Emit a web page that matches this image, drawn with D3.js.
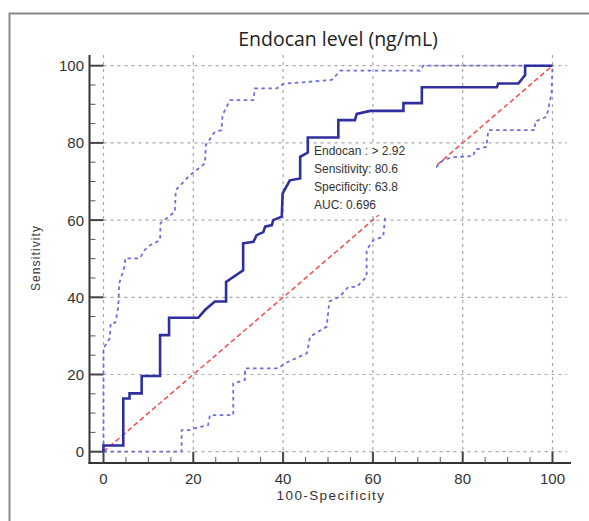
<!DOCTYPE html>
<html><head><meta charset="utf-8">
<script src="https://cdn.jsdelivr.net/npm/d3@7"></script>
<style>body{margin:0;background:#fff}svg{display:block}</style>
</head><body>
<svg id="c" width="589" height="521"></svg>
<script>
const title = "Endocan level (ng/mL)";
const xLabel = "100-Specificity";
const yLabel = "Sensitivity";
const tickValues = [0, 20, 40, 60, 80, 100];
const annotation = ["Endocan : > 2.92", "Sensitivity: 80.6", "Specificity: 63.8", "AUC: 0.696"];

const rocX = [0,0,4.4,4.4,5.8,5.8,8.5,8.5,12.6,12.6,14.6,14.6,21.1,22.6,24.8,27.3,27.3,31.1,31.1,33.4,34.1,35.6,36,37.5,37.8,39.7,39.9,41.5,43.8,43.8,45.5,45.5,52.3,52.3,56,56.4,59.4,66.8,66.8,70.9,70.9,87.6,87.9,92.4,93.9,93.9,100];
const rocY = [0,1.6,1.6,13.8,13.8,15.1,15.1,19.6,19.6,30.2,30.2,34.7,34.7,36.7,38.9,38.9,44,47,54,54.4,56.1,56.9,58.3,58.7,60,60.9,66.9,70.3,70.8,76.4,77.5,81.4,81.4,85.9,85.9,87.5,88.3,88.3,90.3,90.3,94.4,94.4,95.4,95.4,97.6,100,100];

const upperX = [0,0,0.7,1.4,1.6,2.6,2.9,3.3,3.5,4.1,4.8,4.8,8.1,9.2,10.4,12.6,12.7,15.9,16.1,19.3,22.6,22.8,24.8,26.3,26.5,28.2,33.4,33.7,38.6,40,50.8,51.9,52.7,70.5,71.2,100];
const upperY = [0,26.8,28.1,29.4,33.3,33.4,35,37.6,43.6,45.8,48.4,50.1,50.1,52.3,53.5,54.8,59.2,62.2,67.8,71.7,74.7,79.5,82.9,83.3,87.2,91.1,91.1,94.1,94.1,95.3,96.3,97.6,98.7,98.7,100,100];

const lowerX = [0,17.4,17.4,19.3,20.4,23.3,23.7,28.9,28.9,31.5,31.5,38.9,40,40.4,45.3,46,49.7,50.3,52.7,54.5,56.4,58.6,58.6,60.1,62.3,62.7,63.5,67,71,73.8,75.7,77.9,82.4,82.7,85.3,85.7,96.1,96.1,98.7,99.1,99.8,100];
const lowerY = [0,0,5.6,5.6,6.1,6.9,9.5,9.5,17.7,18.6,21.6,21.6,22.5,22.9,25.5,29.8,32.4,38.9,40.2,42.7,42.7,45.3,52.3,54.8,55.7,60.5,63,65,70,73.4,75.6,76.3,76.6,78.2,79,83.3,83.3,85.5,86.8,89,92.9,100];

const diagX = [0, 100];
const diagY = [0, 100];

const svg = d3.select("#c");
const x = d3.scaleLinear().domain([0, 100]).range([103.5, 552.5]);
const y = d3.scaleLinear().domain([0, 100]).range([451.7, 65.7]);
const axisX = 89.5, axisY = 463, axisTop = 55, axisRight = 571;

// outer frame
svg.append("rect").attr("x", 9.5).attr("y", 13.5).attr("width", 620).attr("height", 620)
  .attr("fill", "none").attr("stroke", "#8a8a8a").attr("stroke-width", 2);

// title
svg.append("text").attr("x", 338).attr("y", 46).attr("text-anchor", "middle")
  .attr("font-family", "Open Sans, sans-serif").attr("font-size", 19.5).attr("fill", "#222")
  .text(title);

// grid
const g = svg.append("g");
g.selectAll("line.h").data(tickValues).join("line")
  .attr("x1", axisX).attr("x2", 567).attr("y1", d => y(d)).attr("y2", d => y(d))
  .attr("stroke", "#a8a8a8").attr("stroke-width", 1.2).attr("stroke-dasharray", "3,4");
g.selectAll("line.v").data(tickValues).join("line")
  .attr("y1", axisTop).attr("y2", axisY).attr("x1", d => x(d)).attr("x2", d => x(d))
  .attr("stroke", "#a8a8a8").attr("stroke-width", 1.2).attr("stroke-dasharray", "3,4");

// axes
const minor = d3.range(0, 101, 5).filter(d => d % 20 !== 0);
svg.append("line").attr("x1", axisX).attr("x2", axisX).attr("y1", axisTop).attr("y2", axisY + 1)
  .attr("stroke", "#333").attr("stroke-width", 2);
svg.append("line").attr("x1", axisX - 1).attr("x2", axisRight).attr("y1", axisY).attr("y2", axisY)
  .attr("stroke", "#333").attr("stroke-width", 2);
svg.selectAll("line.ymaj").data(tickValues).join("line")
  .attr("x1", axisX).attr("x2", x(0)).attr("y1", d => y(d)).attr("y2", d => y(d))
  .attr("stroke", "#444").attr("stroke-width", 2);
svg.selectAll("line.ymin").data(minor).join("line")
  .attr("x1", axisX).attr("x2", axisX + 6).attr("y1", d => y(d)).attr("y2", d => y(d))
  .attr("stroke", "#555").attr("stroke-width", 1);
svg.selectAll("line.xmaj").data(tickValues).join("line")
  .attr("y1", axisY).attr("y2", y(0)).attr("x1", d => x(d)).attr("x2", d => x(d))
  .attr("stroke", "#444").attr("stroke-width", 2);
svg.selectAll("line.xmin").data(minor).join("line")
  .attr("y1", axisY).attr("y2", axisY - 6).attr("x1", d => x(d)).attr("x2", d => x(d))
  .attr("stroke", "#555").attr("stroke-width", 1);

svg.selectAll("text.yt").data(tickValues).join("text")
  .attr("x", 84).attr("y", d => y(d) + 5.5).attr("text-anchor", "end")
  .attr("font-family", "Liberation Sans, Arial, sans-serif").attr("font-size", 15).attr("fill", "#333")
  .text(d => d);
svg.selectAll("text.xt").data(tickValues).join("text")
  .attr("x", d => x(d)).attr("y", 484).attr("text-anchor", "middle")
  .attr("font-family", "Liberation Sans, Arial, sans-serif").attr("font-size", 15).attr("fill", "#333")
  .text(d => d);

svg.append("text").attr("x", 331).attr("y", 500).attr("text-anchor", "middle")
  .attr("font-family", "Liberation Sans, Arial, sans-serif").attr("font-size", 13.5)
  .attr("letter-spacing", 1.4).attr("fill", "#333").text(xLabel);
svg.append("text").attr("transform", "translate(40,258) rotate(-90)").attr("text-anchor", "middle")
  .attr("font-family", "Liberation Sans, Arial, sans-serif").attr("font-size", 12)
  .attr("letter-spacing", 1.1).attr("fill", "#333").text(yLabel);

const line = d3.line().x(d => x(d[0])).y(d => y(d[1]));
const zip = (a, b) => a.map((v, i) => [v, b[i]]);

svg.append("path").attr("d", line(zip(diagX, diagY))).attr("fill", "none")
  .attr("stroke", "#ee5555").attr("stroke-width", 1.6).attr("stroke-dasharray", "5,3");
svg.append("path").attr("d", line(zip(upperX, upperY))).attr("fill", "none")
  .attr("stroke", "#6e6ed8").attr("stroke-width", 1.8).attr("stroke-dasharray", "3.5,3.5");
svg.append("path").attr("d", line(zip(lowerX, lowerY))).attr("fill", "none")
  .attr("stroke", "#6e6ed8").attr("stroke-width", 1.8).attr("stroke-dasharray", "3.5,3.5");

// annotation box (white, no border)
svg.append("rect").attr("x", 310).attr("y", 144).attr("width", 126).attr("height", 71).attr("fill", "#fff");

svg.append("path").attr("d", line(zip(rocX, rocY))).attr("fill", "none")
  .attr("stroke", "#2f2fa0").attr("stroke-width", 2.6);

svg.selectAll("text.ann").data(annotation).join("text")
  .attr("x", 314).attr("y", (d, i) => 154.5 + i * 18)
  .attr("font-family", "Liberation Sans, Arial, sans-serif").attr("font-size", 12).attr("fill", "#333")
  .text(d => d);
</script>
</body></html>
